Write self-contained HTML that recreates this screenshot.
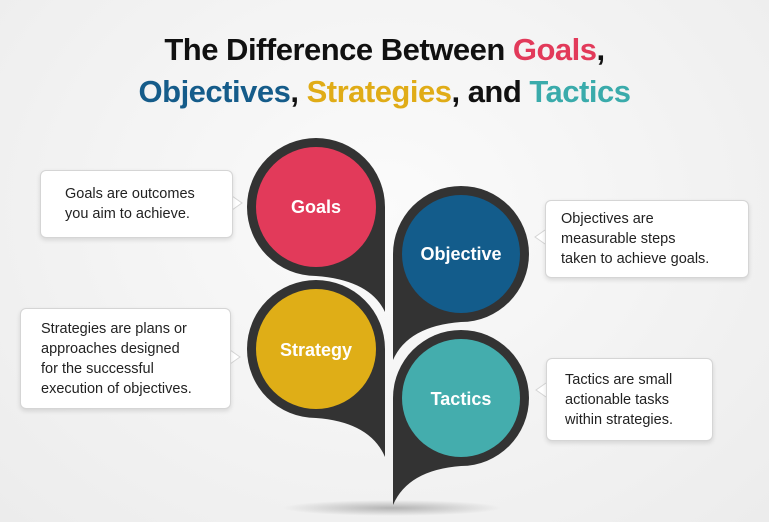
<!DOCTYPE html>
<html><head><meta charset="utf-8"><style>
body{margin:0;width:769px;height:522px;overflow:hidden;background:radial-gradient(ellipse at 50% 40%,#fbfbfb,#ececec);font-family:"Liberation Sans",sans-serif;position:relative}
.t{position:absolute;left:0;width:769px;text-align:center;font-weight:bold;font-size:31px;color:#111;letter-spacing:-0.5px}
.box{position:absolute;background:#fff;border:1px solid #d5d5d5;border-radius:6px;box-shadow:0 2px 5px rgba(0,0,0,.12);font-size:14.5px;line-height:20px;color:#222;padding:0 14px 0 20px;display:flex;align-items:center;box-sizing:border-box;white-space:nowrap}
</style></head><body>
<div class="t" style="top:32px">The Difference Between <span style="color:#e23a5a">Goals</span>,</div>
<div class="t" style="top:74px"><span style="color:#155c8a">Objectives</span>, <span style="color:#e0ac17">Strategies</span>, and <span style="color:#3aabab">Tactics</span></div>
<svg width="769" height="522" style="position:absolute;left:0;top:0">
<defs><radialGradient id="sh"><stop offset="0" stop-color="#999" stop-opacity=".7"/><stop offset="1" stop-color="#999" stop-opacity="0"/></radialGradient></defs>
<ellipse cx="392" cy="508" rx="110" ry="8" fill="url(#sh)"/>
<g fill="#333">
<circle cx="316" cy="207" r="69"/><path d="M385,207 L385,312 Q370,280 316,276 L316,240Z"/>
<circle cx="316" cy="349" r="69"/><path d="M385,349 L385,457 Q370,422 316,418 L316,380Z"/>
<circle cx="461" cy="254" r="68"/><path d="M393,254 L393,360 Q408,326 461,322 L461,290Z"/>
<circle cx="461" cy="398" r="68"/><path d="M393,398 L393,505 Q408,470 461,466 L461,430Z"/>
</g>
<circle cx="316" cy="207" r="60" fill="#e23a5a"/>
<circle cx="316" cy="349" r="60" fill="#dfae17"/>
<circle cx="461" cy="254" r="59" fill="#135c8b"/>
<circle cx="461" cy="398" r="59" fill="#44adad"/>
<g fill="#fff" font-family="Liberation Sans,sans-serif" font-size="18" font-weight="bold" text-anchor="middle">
<text x="316" y="213">Goals</text>
<text x="316" y="356">Strategy</text>
<text x="461" y="260">Objective</text>
<text x="461" y="405">Tactics</text>
</g>
<g fill="#fff" stroke="#d5d5d5">
<path d="M232,196 L242,203 L232,210"/><path d="M230,350 L240,357 L230,364"/>
<path d="M545,230 L535,237 L545,244"/><path d="M546,383 L536,390 L546,397"/>
</g>
</svg>
<div class="box" style="left:40px;top:170px;width:193px;height:68px;padding-left:24px">Goals are outcomes<br>you aim to achieve.</div>
<div class="box" style="left:545px;top:200px;width:204px;height:78px;padding-left:15px">Objectives are<br>measurable steps<br>taken to achieve goals.</div>
<div class="box" style="left:20px;top:308px;width:211px;height:101px">Strategies are plans or<br>approaches designed<br>for the successful<br>execution of objectives.</div>
<div class="box" style="left:546px;top:358px;width:167px;height:83px;padding-left:18px">Tactics are small<br>actionable tasks<br>within strategies.</div>
</body></html>
